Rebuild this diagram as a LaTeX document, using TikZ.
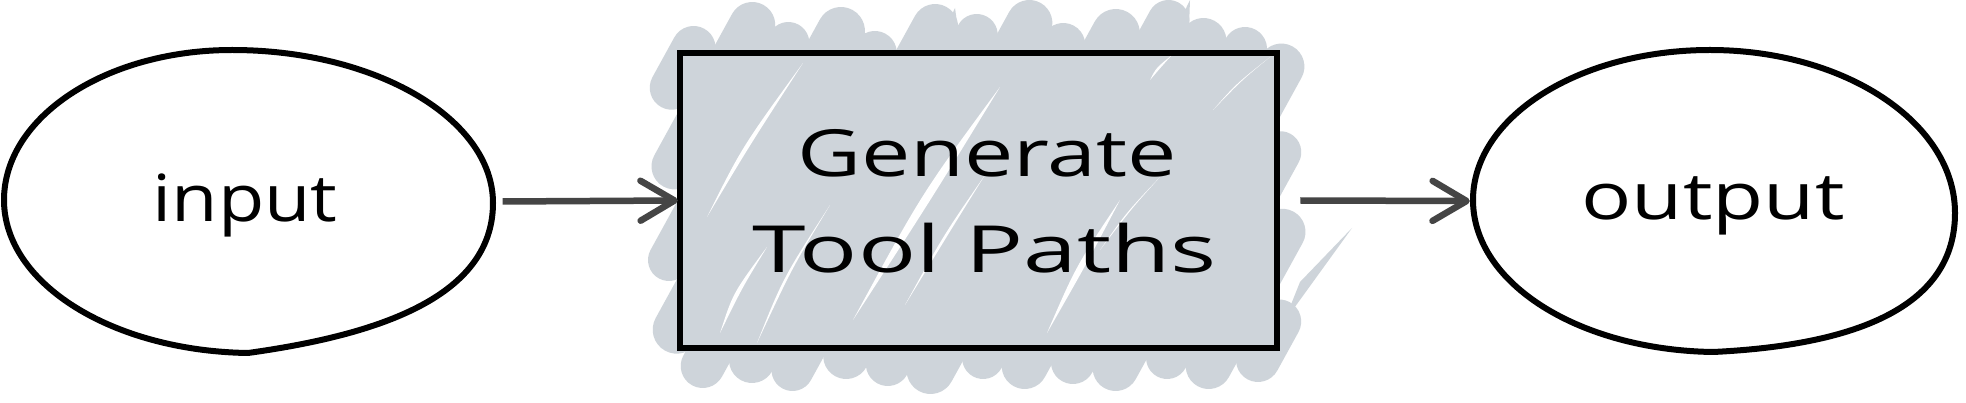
\documentclass[tikz,border=0pt]{standalone}
\usepackage{fontspec}
\setmainfont{Open Sans}
\usepackage{graphicx}
\usetikzlibrary{arrows.meta,shapes.geometric}
\definecolor{hatchc}{HTML}{CED4DA}
\definecolor{arrc}{HTML}{454545}
\tikzset{
  hatchstroke/.style={draw=hatchc, line cap=round},
  streak/.style={fill=white, draw=none},
  outline/.style={draw=black, line width=6pt, line join=round, line cap=round},
  conn/.style={draw=arrc, line width=6.5pt, -{Straight Barb[length=34pt,width=40pt,round]}},
  lbl/.style={inner sep=0pt, font=\fontsize{65}{78}\selectfont, text=black},
  ghost/.style={ellipse, draw=none, inner sep=0pt}
}
\begin{document}
\begin{tikzpicture}[x=1pt,y=-1pt]
\useasboundingbox (0,0) rectangle (1966,403);
\fill[white] (0,0) rectangle (1966,403);

% --- hachure fill of the process box ---
\foreach \c/\et/\eb/\w in {720/5/15/44, 766/28/10/46, 812/10/20/42, 858/22/6/48, 904/0/18/44,
  950/26/12/46, 996/18/22/42, 1042/30/8/46, 1088/8/16/44, 1134/20/22/48, 1180/32/10/42,
  1226/12/18/46, 1272/4/14/44, 1318/8/20/46, 1364/6/10/42, 1410/10/18/46, 1456/4/12/44} {
  \pgfmathsetmacro{\yt}{max(53,(\c-1277)/0.55)-\et}
  \pgfmathsetmacro{\yb}{min(348,(\c-680)/0.55)+\eb}
  \pgfmathsetmacro{\xt}{\c-0.55*\yt}
  \pgfmathsetmacro{\xb}{\c-0.55*\yb}
  \draw[hatchstroke, line width=\w pt] (\xb,\yb) -- (\xt,\yt);
}
\fill[hatchc] (680,53) rectangle (1277,348);
% tapered stroke ends
\fill[hatchc] (1284,322) -- (1300,282) -- (1352,228) -- cycle;
\fill[hatchc] (1160,62) -- (1190,0) -- (1188,55) -- cycle;
\fill[hatchc] (930,62) -- (955,8) -- (962,58) -- cycle;
% white gaps between strokes
\fill[streak] (707,217) .. controls (748,148) .. (803,63) .. controls (742,147) .. (707,217);
\fill[streak] (720,333) .. controls (742,288) .. (767,247) .. controls (733,293) .. (720,333);
\fill[streak] (757,343) .. controls (792,268) .. (830,205) .. controls (783,278) .. (757,343);
\fill[streak] (853,320) .. controls (932,198) .. (1000,87) .. controls (922,193) .. (853,320);
\fill[streak] (905,305) .. controls (952,228) .. (985,175) .. controls (943,236) .. (905,305);
\fill[streak] (1047,333) .. controls (1087,263) .. (1120,200) .. controls (1076,266) .. (1047,333);
\fill[streak] (1100,250) .. controls (1132,208) .. (1160,177) .. controls (1126,213) .. (1100,250);
\fill[streak] (1213,110) .. controls (1242,80) .. (1270,57) .. controls (1236,84) .. (1213,110);
\fill[streak] (1150,80) .. controls (1162,66) .. (1172,55) .. controls (1156,68) .. (1150,80);

% --- shapes ---
\node[ghost, minimum width=490pt, minimum height=303pt] (in) at (248.5,201.5) {};
\node[ghost, minimum width=482pt, minimum height=302pt] (out) at (1714,201) {};
\node[draw=black, line width=6.5pt, minimum width=597pt, minimum height=295pt, inner sep=0pt] (gen) at (978.5,200.5) {};

\draw[outline] (232,50) .. controls (106,50) and (4,117) .. (4,200)
  .. controls (4,284) and (113,351) .. (248,353)
  .. controls (370,336) and (493,300) .. (493,203)
  .. controls (493,119) and (376,50) .. (232,50) -- cycle;
\draw[outline] (1710,50) .. controls (1579,50) and (1473,117) .. (1473,200)
  .. controls (1473,284) and (1580,350) .. (1713,352)
  .. controls (1860,345) and (1955,305) .. (1955,213)
  .. controls (1955,123) and (1845,50) .. (1710,50) -- cycle;

% --- labels ---
\node[lbl, anchor=base] (tin) at (245,222) {\resizebox{185pt}{\height}{input}};
\node[lbl, anchor=base] (tgen1) at (987,177) {\resizebox{380pt}{\height}{Generate}};
\node[lbl, anchor=base] (tgen2) at (985,273) {\resizebox{464pt}{\height}{Tool Paths}};
\node[lbl, anchor=base] (tout) at (1713,220) {\resizebox{263pt}{\height}{output}};

% --- connectors ---
\draw[conn] ([xshift=9pt]in.east) -- ([xshift=1pt]gen.west);
\draw[conn] ([xshift=20pt]gen.east) -- ([xshift=-3pt]out.west);
\end{tikzpicture}
\end{document}
